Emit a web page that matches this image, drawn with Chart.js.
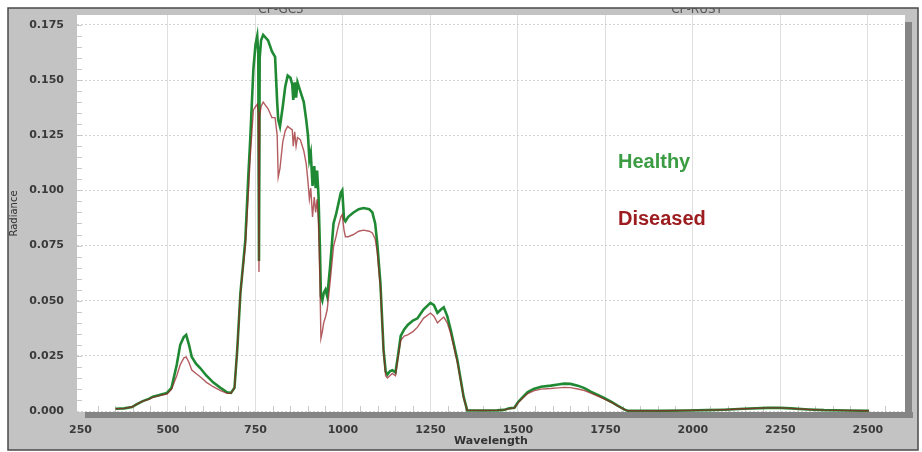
<!DOCTYPE html>
<html>
<head>
<meta charset="utf-8">
<script src="https://cdn.jsdelivr.net/npm/chart.js@4/dist/chart.umd.min.js"></script>
<style>
  html, body { margin: 0; padding: 0; background: #fff; }
  #wrap { width: 922px; height: 452px; }
</style>
</head>
<body>
<div id="wrap"><canvas id="spec"></canvas></div>
<script>
const wavelengths = [
  350, 375, 397, 410, 428, 445, 457, 475, 497, 510, 525, 535, 545, 552, 560, 568, 580, 592, 610, 629,
  650, 669, 680, 690, 698, 707, 715, 721, 730, 735, 744, 750, 755, 758, 760, 762, 766, 772, 786, 797,
  806, 812, 815, 820, 828, 835, 842, 850, 855, 858, 862, 866, 870, 878, 888, 895, 900, 904, 908, 913,
  918, 922, 926, 930, 934, 937, 941, 945, 950, 955, 963, 973, 980, 987, 994, 998, 1003, 1007, 1015, 1030,
  1045, 1059, 1075, 1084, 1092, 1098, 1107, 1116, 1122, 1127, 1134, 1141, 1150, 1158, 1165, 1175, 1185, 1200, 1213, 1230,
  1250, 1260, 1270, 1280, 1288, 1298, 1308, 1327, 1345, 1355, 1400, 1440, 1460, 1475, 1490, 1500, 1515, 1528, 1545, 1566,
  1594, 1615, 1632, 1650, 1671, 1690, 1708, 1728, 1746, 1766, 1786, 1805, 1814, 1900, 1985, 2040, 2089, 2146, 2214, 2250,
  2280, 2330, 2375, 2440, 2503
]

const healthy = [
  0.001, 0.0012, 0.0018, 0.003, 0.0045, 0.0055, 0.0065, 0.0072, 0.0082, 0.0105, 0.021, 0.030, 0.0335, 0.0345, 0.030, 0.0245, 0.0215, 0.0195, 0.016, 0.013,
  0.0105, 0.0085, 0.0082, 0.0105, 0.028, 0.0535, 0.067, 0.0775, 0.108, 0.123, 0.155, 0.166, 0.170, 0.162, 0.068, 0.160, 0.168, 0.1705, 0.168, 0.163,
  0.1605, 0.140, 0.132, 0.129, 0.138, 0.147, 0.152, 0.151, 0.148, 0.141, 0.149, 0.142, 0.149, 0.145, 0.140, 0.132, 0.125, 0.114, 0.117, 0.102,
  0.111, 0.101, 0.109, 0.098, 0.075, 0.052, 0.050, 0.0535, 0.055, 0.052, 0.065, 0.085, 0.089, 0.094, 0.099, 0.100, 0.087, 0.086, 0.088, 0.090,
  0.0915, 0.092, 0.0915, 0.090, 0.085, 0.076, 0.058, 0.0277, 0.018, 0.0165, 0.018, 0.0185, 0.0175, 0.026, 0.034, 0.037, 0.039, 0.041, 0.042, 0.046,
  0.049, 0.048, 0.0445, 0.046, 0.047, 0.043, 0.0367, 0.023, 0.0063, 0.0003, 0.0002, 0.0003, 0.0005, 0.0012, 0.0015, 0.004, 0.0065, 0.0086, 0.0100, 0.011,
  0.0115, 0.012, 0.0124, 0.0123, 0.0115, 0.0104, 0.0088, 0.0073, 0.0059, 0.0042, 0.0023, 0.0006, 0.0001, 0.0001, 0.0002, 0.0004, 0.0006, 0.001, 0.0014, 0.0014,
  0.0012, 0.0007, 0.0004, 0.0002, 0.0001
]

const diseased = [
  0.001, 0.0012, 0.0018, 0.003, 0.0045, 0.0053, 0.0062, 0.007, 0.0077, 0.0098, 0.016, 0.021, 0.024, 0.0245, 0.022, 0.0186, 0.017, 0.0155, 0.013, 0.011,
  0.0092, 0.008, 0.008, 0.0104, 0.028, 0.0535, 0.066, 0.075, 0.100, 0.115, 0.1365, 0.138, 0.139, 0.135, 0.063, 0.134, 0.138, 0.140, 0.137, 0.133,
  0.133, 0.125, 0.106, 0.110, 0.122, 0.127, 0.129, 0.128, 0.1275, 0.120, 0.1265, 0.120, 0.124, 0.123, 0.118, 0.112, 0.104, 0.096, 0.101, 0.088,
  0.097, 0.090, 0.096, 0.085, 0.060, 0.033, 0.036, 0.040, 0.0426, 0.046, 0.058, 0.0745, 0.079, 0.084, 0.088, 0.089, 0.082, 0.079, 0.079, 0.080,
  0.0815, 0.082, 0.0815, 0.0807, 0.078, 0.072, 0.056, 0.027, 0.016, 0.015, 0.016, 0.017, 0.016, 0.025, 0.032, 0.034, 0.0345, 0.036, 0.038, 0.042,
  0.0444, 0.043, 0.040, 0.0415, 0.0426, 0.040, 0.035, 0.022, 0.006, 0.0003, 0.0002, 0.0003, 0.0005, 0.0011, 0.0014, 0.0037, 0.006, 0.0079, 0.0091, 0.0099,
  0.0102, 0.0105, 0.0107, 0.0106, 0.0100, 0.0093, 0.0081, 0.0068, 0.0055, 0.004, 0.0022, 0.0006, 0.0001, 0.0001, 0.0002, 0.0004, 0.0006, 0.001, 0.0014, 0.0014,
  0.0012, 0.0007, 0.0004, 0.0002, 0.0001
]

const xTicks = [250, 500, 750, 1000, 1250, 1500, 1750, 2000, 2250, 2500]
const yTicks = [0, 0.025, 0.05, 0.075, 0.1, 0.125, 0.15, 0.175]
const topLabels = ['CP-GC3', 'CP-RUST']

const toPoints = (vals) => wavelengths.map((w, i) => ({ x: w, y: vals[i] }))

// grey frame, plot shadow, minor ticks and the in-plot labels
const frame = {
  id: 'frame',
  beforeDraw(chart) {
    const { ctx, chartArea: a } = chart
    ctx.save()
    ctx.fillStyle = '#fff'
    ctx.fillRect(0, 0, chart.width, chart.height)
    ctx.fillStyle = '#c3c3c3'
    ctx.fillRect(8, 8, 910, 442)
    ctx.strokeStyle = '#4a4a4a'
    ctx.lineWidth = 1.5
    ctx.strokeRect(8, 8, 910, 442)
    // shadow
    ctx.fillStyle = '#858585'
    ctx.fillRect(a.left + 8, a.bottom, a.width, 6)
    ctx.fillRect(a.right, a.top + 7, 7, a.height - 1)
    ctx.fillStyle = '#fff'
    ctx.fillRect(a.left, a.top, a.width, a.height)
    // cut-off series labels above the plot
    ctx.beginPath()
    ctx.rect(8, 8, 910, a.top - 8)
    ctx.clip()
    ctx.fillStyle = '#555'
    ctx.font = '12px "DejaVu Sans"'
    ctx.textAlign = 'center'
    ctx.fillText(topLabels[0], 281, 13)
    ctx.fillText(topLabels[1], 697, 13)
    ctx.restore()
  },
  beforeDatasetsDraw(chart) {
    const { ctx, chartArea: a, scales } = chart
    ctx.save()
    ctx.strokeStyle = '#c8c8c8'
    ctx.lineWidth = 1
    ctx.beginPath()
    for (let w = 300; w <= 2550; w += 50) {
      if (w % 250 === 0) continue
      const px = Math.round(scales.x.getPixelForValue(w)) + 0.5
      ctx.moveTo(px, a.bottom)
      ctx.lineTo(px, a.bottom - 6)
    }
    for (let v = 0.005; v < 0.18; v += 0.005) {
      const py = Math.round(scales.y.getPixelForValue(v)) + 0.5
      ctx.moveTo(a.left, py)
      ctx.lineTo(a.left + 5, py)
    }
    ctx.stroke()
    ctx.restore()
  },
  afterDraw(chart) {
    const { ctx } = chart
    ctx.save()
    ctx.font = 'bold 20px "Liberation Sans", Arial'
    ctx.textAlign = 'left'
    ctx.fillStyle = '#3c9c44'
    ctx.fillText('Healthy', 618, 168)
    ctx.fillStyle = '#9c1c20'
    ctx.fillText('Diseased', 618, 225)
    ctx.restore()
  }
}

new Chart(document.getElementById('spec'), {
  type: 'line',
  data: {
    datasets: [
      {
        label: 'Healthy',
        data: toPoints(healthy),
        borderColor: '#1f8a33',
        borderWidth: 2.6,
        pointRadius: 0,
        tension: 0,
        order: 2,
      },
      {
        label: 'Diseased',
        data: toPoints(diseased),
        borderColor: 'rgba(150, 30, 35, 0.72)',
        borderWidth: 1.4,
        pointRadius: 0,
        tension: 0,
        order: 1,
      },
    ],
  },
  options: {
    responsive: true,
    maintainAspectRatio: false,
    animation: false,
    layout: { padding: { left: 0, top: 15, right: 17, bottom: 0 } },
    plugins: { legend: { display: false }, tooltip: { enabled: false } },
    scales: {
      x: {
        type: 'linear',
        min: 240,
        max: 2606,
        afterBuildTicks: (s) => { s.ticks = xTicks.map((v) => ({ value: v })) },
        afterFit: (s) => { s.height = 40; s.paddingLeft = 0; s.paddingRight = 0 },
        border: { display: false },
        grid: {
          drawTicks: false,
          color: (c) => (c.tick && c.tick.value === 250 ? 'rgba(0,0,0,0)' : '#dedede'),
        },
        ticks: {
          padding: 12,
          color: '#3a3a3a',
          font: { family: 'DejaVu Sans', size: 11, weight: 'bold' },
          maxRotation: 0,
          autoSkip: false,
          callback: (v) => String(v),
        },
        title: {
          display: true,
          text: 'Wavelength',
          color: '#333',
          font: { family: 'DejaVu Sans', size: 11, weight: 'bold' },
          padding: { top: 0, bottom: 4 },
        },
      },
      y: {
        min: -0.00045,
        max: 0.1795,
        afterBuildTicks: (s) => { s.ticks = yTicks.map((v) => ({ value: v })) },
        afterFit: (s) => { s.width = 77; s.paddingTop = 0; s.paddingBottom = 0 },
        border: { display: false, dash: [2, 2] },
        grid: {
          drawTicks: false,
          color: '#d2d2d2',
        },
        ticks: {
          padding: 13,
          color: '#3a3a3a',
          font: { family: 'DejaVu Sans', size: 11, weight: 'bold' },
          callback: (v) => v.toFixed(3),
        },
        title: {
          display: true,
          text: 'Radiance',
          color: '#333',
          font: { family: 'DejaVu Sans', size: 10 },
          padding: { top: 8, bottom: 0 },
        },
      },
    },
  },
  plugins: [frame],
})
</script>
</body>
</html>
